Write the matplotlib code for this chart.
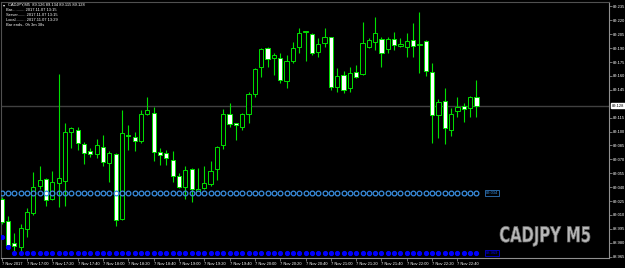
import matplotlib
matplotlib.use('Agg')
import matplotlib.pyplot as plt
import matplotlib.patheffects as pe
from matplotlib.textpath import TextPath
from matplotlib.patches import PathPatch
from matplotlib.font_manager import FontProperties
from matplotlib.transforms import Affine2D

# CADJPY M5 candles (oldest first)
opens = [89.027, 89.003, 88.980, 88.975, 88.995, 89.012, 89.041, 89.049, 89.027, 89.045,
         89.047, 89.100, 89.102, 89.087, 89.079, 89.076, 89.083, 89.066, 89.076, 89.006,
         89.096, 89.094, 89.090, 89.119, 89.120, 89.078, 89.077, 89.069, 89.052, 89.040,
         89.060, 89.036, 89.039, 89.043, 89.060, 89.086, 89.119, 89.109, 89.105, 89.119,
         89.141, 89.170, 89.190, 89.179, 89.179, 89.155, 89.176, 89.191, 89.207, 89.205,
         89.186, 89.196, 89.202, 89.148, 89.161, 89.147, 89.164, 89.162, 89.191, 89.197,
         89.200, 89.189, 89.200, 89.192, 89.191, 89.199, 89.193, 89.198, 89.164, 89.118,
         89.133, 89.102, 89.122, 89.128, 89.125, 89.137]
highs = [89.029, 89.009, 88.991, 89.000, 89.018, 89.056, 89.063, 89.050, 89.057, 89.162,
         89.109, 89.105, 89.105, 89.089, 89.082, 89.092, 89.096, 89.079, 89.077, 89.123,
         89.107, 89.100, 89.123, 89.137, 89.127, 89.082, 89.080, 89.079, 89.055, 89.063,
         89.061, 89.061, 89.063, 89.068, 89.084, 89.124, 89.131, 89.109, 89.120, 89.143,
         89.169, 89.190, 89.191, 89.185, 89.185, 89.183, 89.197, 89.212, 89.209, 89.206,
         89.201, 89.212, 89.202, 89.169, 89.165, 89.170, 89.172, 89.218, 89.201, 89.224,
         89.202, 89.202, 89.207, 89.201, 89.206, 89.217, 89.229, 89.199, 89.174, 89.135,
         89.147, 89.125, 89.137, 89.131, 89.138, 89.156]
lows = [89.000, 88.975, 88.970, 88.970, 88.986, 89.010, 89.038, 89.020, 89.026, 89.019,
        89.020, 89.082, 89.080, 89.065, 89.073, 89.072, 89.063, 89.046, 88.998, 89.005,
        89.080, 89.079, 89.088, 89.118, 89.068, 89.064, 89.064, 89.046, 89.039, 89.027,
        89.024, 89.036, 89.038, 89.041, 89.048, 89.081, 89.105, 89.091, 89.102, 89.109,
        89.137, 89.159, 89.170, 89.161, 89.152, 89.147, 89.174, 89.185, 89.176, 89.183,
        89.180, 89.191, 89.145, 89.143, 89.142, 89.143, 89.158, 89.161, 89.190, 89.188,
        89.170, 89.185, 89.188, 89.191, 89.180, 89.180, 89.163, 89.160, 89.088, 89.093,
        89.087, 89.095, 89.116, 89.110, 89.116, 89.116]
closes = [89.002, 88.978, 88.977, 88.996, 89.013, 89.040, 89.048, 89.026, 89.046, 89.050,
          89.100, 89.104, 89.088, 89.077, 89.076, 89.086, 89.067, 89.077, 89.005, 89.098,
          89.095, 89.090, 89.119, 89.123, 89.078, 89.075, 89.072, 89.052, 89.040, 89.059,
          89.038, 89.038, 89.045, 89.057, 89.083, 89.119, 89.108, 89.107, 89.119, 89.141,
          89.168, 89.189, 89.178, 89.183, 89.156, 89.176, 89.190, 89.206, 89.209, 89.185,
          89.195, 89.202, 89.148, 89.160, 89.145, 89.163, 89.159, 89.196, 89.199, 89.206,
          89.185, 89.200, 89.193, 89.195, 89.198, 89.192, 89.195, 89.165, 89.118, 89.132,
          89.104, 89.119, 89.127, 89.124, 89.137, 89.128]

# indicator dots
upper_level = 89.034
lower_dots = [88.986, 88.975] + [88.969] * (len(closes) - 2)

price_ticks = [89.235, 89.220, 89.205, 89.190, 89.175, 89.160, 89.145, 89.115, 89.100,
               89.085, 89.070, 89.055, 89.040, 89.025, 89.010, 88.995, 88.980, 88.965]
time_labels = ['7 Nov 2017', '7 Nov 17:00', '7 Nov 17:20', '7 Nov 17:40', '7 Nov 18:00',
               '7 Nov 18:20', '7 Nov 18:40', '7 Nov 19:00', '7 Nov 19:20', '7 Nov 19:40',
               '7 Nov 20:00', '7 Nov 20:20', '7 Nov 20:40', '7 Nov 21:00', '7 Nov 21:20',
               '7 Nov 21:40', '7 Nov 22:00', '7 Nov 22:20', '7 Nov 22:40']
header = ['CADJPY,M5  89.126 89.134 89.115 89.128',
          'Bar........... 2017.11.07 13:15',
          'Server....... 2017.11.07 13:15',
          'Local......... 2017.11.07 13:29',
          'Bar ends.. 0h 3m 38s']
watermark = 'CADJPY M5'

small = dict(family=['Liberation Sans', 'DejaVu Sans'], fontsize=2.9)
W, H = 625, 268

fig = plt.figure(figsize=(W / 100, H / 100), dpi=100, facecolor='black')
ax = fig.add_axes([1 / W, 10 / H, 608 / W, 256 / H], facecolor='black')

idx = list(range(len(closes)))
up = '#00e000'
for i in idx:
    o, h, l, c = opens[i], highs[i], lows[i], closes[i]
    ax.vlines(i, l, h, color=up, lw=0.8, zorder=2)
    body = max(abs(c - o), 0.0004)
    face = 'black' if c >= o else 'white'
    ax.bar(i, body, bottom=min(o, c), width=0.66, facecolor=face, edgecolor=up, lw=0.7, zorder=3)

# current price line
ax.axhline(closes[-1], color='#404040', lw=1, zorder=1)

# indicator rows
ax.plot(idx, [upper_level] * len(idx), ls='none', marker='o', ms=3.4, mfc='none',
        mec='#3a8ee0', mew=0.9, zorder=4)
ax.plot(idx, lower_dots, ls='none', marker='o', ms=2.7, color='#0000ff', zorder=4)
ax.text(len(idx) + 0.5, upper_level, '%.3f' % upper_level, color='#3a8ee0', va='center',
        ha='left', bbox=dict(fc='black', ec='#3a8ee0', lw=0.5, pad=0.6), **small)
ax.text(len(idx) + 0.5, lower_dots[-1], '%.3f' % lower_dots[-1], color='#0000ff', va='center',
        ha='left', bbox=dict(fc='black', ec='#0000ff', lw=0.5, pad=0.6), **small)

ax.set_xlim(-0.11, 95.94)
ax.set_ylim(88.9636, 89.2398)

ax.yaxis.tick_right()
ax.set_yticks(price_ticks)
ax.set_yticklabels(['%.3f' % p for p in price_ticks], color='white', **small)
ax.set_xticks(idx[::4][:len(time_labels)])
ax.set_xticklabels(time_labels, color='white', ha='left', **small)
ax.tick_params(axis='y', length=2, width=0.5, color='#a0a0a0', pad=1)
ax.tick_params(axis='x', length=2, width=0.5, color='#a0a0a0', pad=0.8)
for s in ax.spines.values():
    s.set_color('#909090')
    s.set_linewidth(0.8)
ax.spines['top'].set_color('#505050')
ax.spines['left'].set_color('#505050')

ax.annotate('%.3f' % closes[-1], xy=(1, closes[-1]), xycoords=('axes fraction', 'data'),
            xytext=(2, 0), textcoords='offset points', va='center', ha='left', color='black',
            bbox=dict(fc='white', ec='white', pad=0.4), annotation_clip=False, **small)

for k, line in enumerate(header):
    fig.text(8 / W if k == 0 else 6 / W, 1 - (5 + 4.9 * k) / H, line, color='white', va='center', **small)
fig.text(3 / W, 1 - 5 / H, '\u25be', color='white', va='center', fontsize=3, family='DejaVu Sans')

# watermark: squeeze the bold text into the narrow box the terminal uses
tp = TextPath((0, 0), watermark, size=1, prop=FontProperties(family='DejaVu Sans', weight='bold'))
ext = tp.get_extents()
sx = 90 / ext.width
sy = 20 / ext.height
tr = Affine2D().translate(-ext.x0, 0).scale(sx, sy).translate(500, H - 242)
fig.add_artist(PathPatch(tp, transform=tr, fc='#b8b8b8', ec='#6a6a6a', lw=0.5))

fig.savefig('out.png', dpi=100, facecolor='black')
